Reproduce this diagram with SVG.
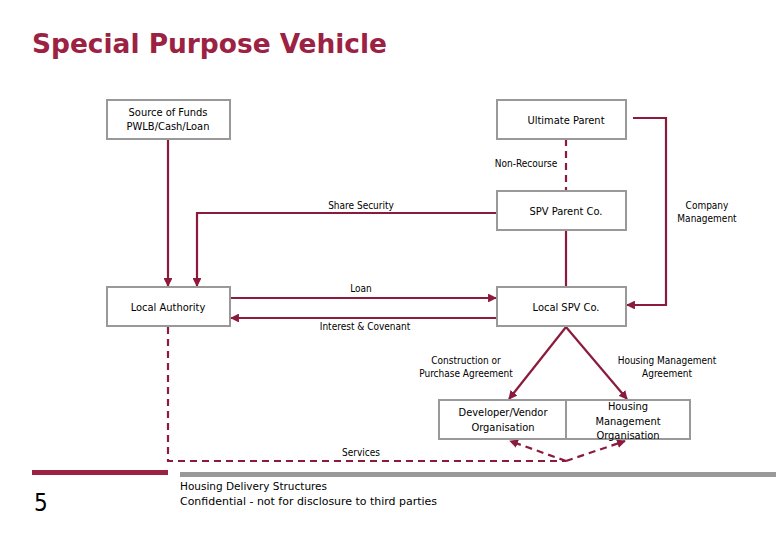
<svg xmlns="http://www.w3.org/2000/svg" width="780" height="540" viewBox="0 0 780 540">
<defs>
<style>
.b{fill:#fff;stroke:#999;stroke-width:2}
.t{font-family:"DejaVu Sans Condensed","DejaVu Sans",sans-serif;font-size:11px;fill:#000;text-anchor:middle}
.c{fill:none;stroke:#8b1a3c;stroke-width:2.2}
.d{stroke-dasharray:7,5}
</style>
<marker id="a" viewBox="0 0 10 10" refX="9" refY="5" markerWidth="4" markerHeight="4" orient="auto-start-reverse"><path d="M0,0L10,5L0,10z" fill="#8b1a3c"/></marker>
</defs>
<rect width="780" height="540" fill="#fff"/>
<text x="32" y="53" font-family="DejaVu Sans Condensed,DejaVu Sans,sans-serif" font-size="27" font-weight="bold" fill="#9b2242" textLength="355" lengthAdjust="spacingAndGlyphs">Special Purpose Vehicle</text>
<g id="connectors">
<path class="c" d="M168,139V286" marker-end="url(#a)"/>
<path class="c" d="M497,213H197V286" marker-end="url(#a)"/>
<path class="c" d="M230,298H496" marker-end="url(#a)"/>
<path class="c" d="M497,318H231" marker-end="url(#a)"/>
<path class="c" d="M633,118H666V305H627" marker-end="url(#a)"/>
<path class="c d" d="M566,139V191"/>
<path class="c" d="M566,230V287"/>
<path class="c" d="M566,327L509,399" marker-end="url(#a)"/>
<path class="c" d="M566,327L627,399" marker-end="url(#a)"/>
<path class="c d" d="M168,327V461H566"/>
<path class="c d" d="M566,461L510,441" marker-end="url(#a)"/>
<path class="c d" d="M566,461L625,441" marker-end="url(#a)"/>
</g>
<g id="source"><rect class="b" x="107" y="100" width="123" height="39"/><text class="t" x="168" y="116">Source of Funds</text><text class="t" x="168" y="130">PWLB/Cash/Loan</text></g>
<g id="ultimate"><rect class="b" x="497" y="100" width="129" height="39"/><text class="t" x="566" y="124">Ultimate Parent</text></g>
<g id="spvparent"><rect class="b" x="497" y="191" width="129" height="39"/><text class="t" x="566" y="215">SPV Parent Co.</text></g>
<g id="la"><rect class="b" x="107" y="287" width="123" height="39"/><text class="t" x="168" y="311">Local Authority</text></g>
<g id="localspv"><rect class="b" x="497" y="287" width="129" height="39"/><text class="t" x="566" y="311">Local SPV Co.</text></g>
<g id="dev"><rect class="b" x="439" y="400" width="127" height="39"/><text class="t" x="503" y="416">Developer/Vendor</text><text class="t" x="503" y="431">Organisation</text></g>
<g id="hmo"><rect class="b" x="566" y="400" width="124" height="39"/><text class="t" x="628" y="410">Housing</text><text class="t" x="628" y="425">Management</text><text class="t" x="628" y="439">Organisation</text></g>
<g class="t" font-size="10">
<text x="526" y="167" font-size="10">Non-Recourse</text>
<text x="361" y="209" font-size="10">Share Security</text>
<text x="707" y="209" font-size="10">Company</text>
<text x="707" y="222" font-size="10">Management</text>
<text x="361" y="292" font-size="10">Loan</text>
<text x="365" y="330" font-size="10">Interest &amp; Covenant</text>
<text x="466" y="364" font-size="10">Construction or</text>
<text x="466" y="377" font-size="10">Purchase Agreement</text>
<text x="667" y="364" font-size="10">Housing Management</text>
<text x="667" y="377" font-size="10">Agreement</text>
<text x="361" y="456" font-size="10">Services</text>
</g>
<rect x="32" y="470" width="136" height="5" fill="#9b2242"/>
<rect x="180" y="472" width="596" height="5" fill="#999"/>
<text x="34" y="511" font-family="DejaVu Sans Condensed,DejaVu Sans,sans-serif" font-size="24">5</text>
<text x="180" y="490" font-family="DejaVu Sans Condensed,DejaVu Sans,sans-serif" font-size="11" textLength="147" lengthAdjust="spacingAndGlyphs">Housing Delivery Structures</text>
<text x="180" y="505" font-family="DejaVu Sans Condensed,DejaVu Sans,sans-serif" font-size="11" textLength="257" lengthAdjust="spacingAndGlyphs">Confidential - not for disclosure to third parties</text>
</svg>
